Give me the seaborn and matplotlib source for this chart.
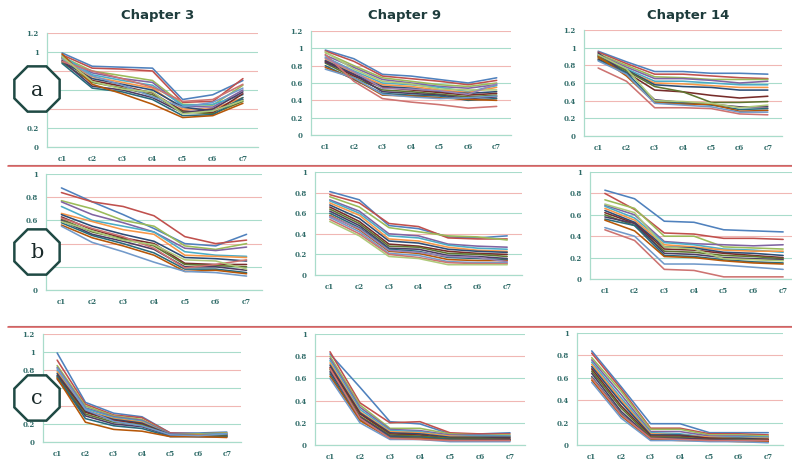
import pandas as pd
import numpy as np
from matplotlib import pyplot as plt
from matplotlib.patches import RegularPolygon
from matplotlib.ticker import FuncFormatter
import seaborn as sns

stages = ["c1", "c2", "c3", "c4", "c5", "c6", "c7"]
chapters = ["Chapter 3", "Chapter 9", "Chapter 14"]
row_labels = ["a", "b", "c"]

# row a
ch3_a = [
    [0.99, 0.85, 0.84, 0.83, 0.50, 0.55, 0.70],
    [0.97, 0.83, 0.82, 0.80, 0.47, 0.48, 0.72],
    [0.95, 0.80, 0.75, 0.70, 0.45, 0.44, 0.65],
    [0.93, 0.78, 0.72, 0.68, 0.43, 0.42, 0.60],
    [0.96, 0.76, 0.70, 0.65, 0.44, 0.45, 0.55],
    [0.92, 0.74, 0.68, 0.62, 0.40, 0.40, 0.52],
    [0.90, 0.72, 0.66, 0.60, 0.42, 0.38, 0.50],
    [0.94, 0.70, 0.64, 0.57, 0.38, 0.36, 0.56],
    [0.89, 0.68, 0.62, 0.55, 0.37, 0.35, 0.48],
    [0.91, 0.64, 0.60, 0.52, 0.36, 0.40, 0.58],
    [0.88, 0.62, 0.58, 0.50, 0.33, 0.34, 0.52],
    [0.98, 0.66, 0.56, 0.45, 0.31, 0.33, 0.46],
    [0.93, 0.75, 0.65, 0.53, 0.42, 0.47, 0.62],
    [0.90, 0.80, 0.72, 0.63, 0.48, 0.50, 0.66],
    [0.95, 0.69, 0.61, 0.58, 0.35, 0.38, 0.49],
]
ch9_a = [
    [0.98, 0.88, 0.70, 0.68, 0.64, 0.60, 0.66],
    [0.97, 0.85, 0.68, 0.65, 0.62, 0.58, 0.63],
    [0.95, 0.80, 0.66, 0.62, 0.58, 0.56, 0.60],
    [0.92, 0.78, 0.64, 0.60, 0.56, 0.54, 0.58],
    [0.90, 0.74, 0.60, 0.58, 0.55, 0.50, 0.57],
    [0.88, 0.72, 0.58, 0.56, 0.52, 0.49, 0.55],
    [0.86, 0.70, 0.56, 0.54, 0.50, 0.48, 0.50],
    [0.85, 0.68, 0.55, 0.52, 0.49, 0.46, 0.48],
    [0.83, 0.66, 0.52, 0.50, 0.47, 0.44, 0.46],
    [0.84, 0.70, 0.50, 0.48, 0.46, 0.42, 0.44],
    [0.80, 0.64, 0.48, 0.46, 0.45, 0.40, 0.42],
    [0.78, 0.65, 0.46, 0.45, 0.43, 0.41, 0.40],
    [0.76, 0.66, 0.47, 0.44, 0.42, 0.43, 0.45],
    [0.93, 0.62, 0.42, 0.38, 0.35, 0.31, 0.33],
    [0.96, 0.76, 0.62, 0.59, 0.53, 0.52, 0.52],
    [0.89, 0.73, 0.54, 0.53, 0.51, 0.47, 0.59],
]
ch14_a = [
    [0.96, 0.84, 0.73, 0.73, 0.71, 0.71, 0.70],
    [0.95, 0.82, 0.70, 0.70, 0.68, 0.66, 0.65],
    [0.93, 0.80, 0.67, 0.66, 0.64, 0.64, 0.64],
    [0.92, 0.78, 0.65, 0.65, 0.63, 0.60, 0.62],
    [0.90, 0.76, 0.62, 0.62, 0.60, 0.58, 0.58],
    [0.88, 0.74, 0.60, 0.59, 0.57, 0.55, 0.55],
    [0.91, 0.75, 0.58, 0.56, 0.55, 0.52, 0.52],
    [0.87, 0.72, 0.52, 0.50, 0.46, 0.43, 0.45],
    [0.89, 0.74, 0.56, 0.50, 0.38, 0.38, 0.39],
    [0.94, 0.70, 0.41, 0.38, 0.36, 0.33, 0.33],
    [0.86, 0.72, 0.39, 0.37, 0.35, 0.30, 0.31],
    [0.90, 0.68, 0.38, 0.36, 0.36, 0.28, 0.29],
    [0.85, 0.70, 0.37, 0.35, 0.33, 0.27, 0.27],
    [0.77, 0.62, 0.32, 0.32, 0.31, 0.25, 0.24],
    [0.92, 0.76, 0.40, 0.39, 0.37, 0.32, 0.35],
]

# row b
ch3_b = [
    [0.88, 0.76, 0.65, 0.53, 0.40, 0.38, 0.48],
    [0.84, 0.76, 0.72, 0.64, 0.46, 0.40, 0.43],
    [0.77, 0.70, 0.60, 0.55, 0.38, 0.35, 0.40],
    [0.76, 0.65, 0.58, 0.50, 0.36, 0.34, 0.37],
    [0.72, 0.60, 0.55, 0.50, 0.33, 0.30, 0.29],
    [0.66, 0.59, 0.52, 0.48, 0.30, 0.29, 0.28],
    [0.65, 0.55, 0.48, 0.42, 0.28, 0.27, 0.25],
    [0.63, 0.52, 0.45, 0.40, 0.23, 0.22, 0.22],
    [0.61, 0.50, 0.44, 0.38, 0.22, 0.21, 0.20],
    [0.60, 0.48, 0.42, 0.35, 0.20, 0.20, 0.17],
    [0.58, 0.47, 0.40, 0.32, 0.18, 0.18, 0.15],
    [0.56, 0.45, 0.38, 0.30, 0.16, 0.17, 0.14],
    [0.55, 0.41, 0.33, 0.24, 0.16, 0.15, 0.12],
    [0.62, 0.53, 0.46, 0.36, 0.19, 0.22, 0.26],
    [0.59, 0.51, 0.43, 0.39, 0.26, 0.25, 0.18],
]
ch9_b = [
    [0.81, 0.73, 0.48, 0.45, 0.37, 0.36, 0.38],
    [0.78, 0.70, 0.50, 0.47, 0.36, 0.35, 0.35],
    [0.76, 0.66, 0.46, 0.42, 0.38, 0.37, 0.34],
    [0.73, 0.62, 0.40, 0.38, 0.30, 0.28, 0.27],
    [0.72, 0.60, 0.38, 0.36, 0.29, 0.26, 0.25],
    [0.70, 0.58, 0.35, 0.33, 0.27, 0.24, 0.23],
    [0.68, 0.55, 0.33, 0.31, 0.25, 0.23, 0.22],
    [0.66, 0.52, 0.30, 0.28, 0.23, 0.21, 0.20],
    [0.64, 0.50, 0.28, 0.27, 0.21, 0.20, 0.18],
    [0.62, 0.48, 0.26, 0.25, 0.19, 0.18, 0.16],
    [0.60, 0.46, 0.25, 0.23, 0.17, 0.16, 0.15],
    [0.58, 0.44, 0.23, 0.21, 0.15, 0.14, 0.14],
    [0.56, 0.42, 0.21, 0.19, 0.13, 0.12, 0.12],
    [0.54, 0.40, 0.20, 0.17, 0.12, 0.11, 0.11],
    [0.52, 0.38, 0.18, 0.16, 0.10, 0.10, 0.10],
    [0.57, 0.45, 0.24, 0.22, 0.18, 0.17, 0.13],
]
ch14_b = [
    [0.83, 0.75, 0.54, 0.53, 0.46, 0.45, 0.44],
    [0.80, 0.65, 0.43, 0.42, 0.38, 0.38, 0.37],
    [0.74, 0.66, 0.40, 0.40, 0.30, 0.29, 0.28],
    [0.69, 0.60, 0.35, 0.33, 0.32, 0.31, 0.32],
    [0.68, 0.57, 0.34, 0.32, 0.28, 0.27, 0.25],
    [0.66, 0.55, 0.32, 0.30, 0.27, 0.26, 0.26],
    [0.64, 0.53, 0.30, 0.29, 0.25, 0.24, 0.22],
    [0.62, 0.52, 0.28, 0.27, 0.24, 0.22, 0.20],
    [0.60, 0.50, 0.26, 0.25, 0.22, 0.21, 0.19],
    [0.58, 0.52, 0.24, 0.23, 0.20, 0.19, 0.18],
    [0.56, 0.50, 0.22, 0.21, 0.18, 0.16, 0.15],
    [0.55, 0.45, 0.21, 0.20, 0.17, 0.15, 0.14],
    [0.48, 0.40, 0.14, 0.14, 0.13, 0.11, 0.09],
    [0.46, 0.36, 0.09, 0.08, 0.02, 0.02, 0.02],
    [0.70, 0.62, 0.30, 0.28, 0.19, 0.18, 0.17],
]

# row c
ch3_c = [
    [0.99, 0.44, 0.32, 0.28, 0.10, 0.10, 0.11],
    [0.91, 0.42, 0.30, 0.27, 0.10, 0.09, 0.10],
    [0.85, 0.40, 0.29, 0.25, 0.09, 0.09, 0.10],
    [0.83, 0.38, 0.28, 0.24, 0.09, 0.08, 0.09],
    [0.80, 0.37, 0.27, 0.23, 0.08, 0.08, 0.09],
    [0.78, 0.35, 0.26, 0.22, 0.08, 0.08, 0.08],
    [0.76, 0.34, 0.25, 0.21, 0.08, 0.07, 0.08],
    [0.74, 0.33, 0.24, 0.20, 0.07, 0.07, 0.07],
    [0.72, 0.31, 0.22, 0.19, 0.07, 0.07, 0.07],
    [0.70, 0.29, 0.20, 0.17, 0.07, 0.06, 0.06],
    [0.73, 0.26, 0.18, 0.15, 0.06, 0.06, 0.06],
    [0.71, 0.22, 0.14, 0.12, 0.06, 0.06, 0.05],
    [0.82, 0.36, 0.23, 0.18, 0.08, 0.07, 0.09],
]
ch9_c = [
    [0.82, 0.52, 0.21, 0.19, 0.10, 0.10, 0.11],
    [0.84, 0.38, 0.20, 0.21, 0.11, 0.10, 0.10],
    [0.80, 0.36, 0.15, 0.15, 0.10, 0.09, 0.09],
    [0.78, 0.34, 0.14, 0.13, 0.09, 0.09, 0.08],
    [0.76, 0.32, 0.13, 0.12, 0.08, 0.08, 0.08],
    [0.74, 0.30, 0.12, 0.11, 0.08, 0.07, 0.07],
    [0.72, 0.29, 0.11, 0.10, 0.07, 0.07, 0.07],
    [0.70, 0.28, 0.10, 0.09, 0.06, 0.06, 0.06],
    [0.68, 0.26, 0.09, 0.08, 0.06, 0.06, 0.05],
    [0.66, 0.25, 0.08, 0.07, 0.05, 0.05, 0.05],
    [0.64, 0.23, 0.07, 0.07, 0.05, 0.04, 0.04],
    [0.62, 0.22, 0.06, 0.06, 0.04, 0.04, 0.04],
    [0.60, 0.20, 0.05, 0.05, 0.03, 0.03, 0.03],
    [0.69, 0.24, 0.06, 0.05, 0.04, 0.04, 0.04],
]
ch14_c = [
    [0.84, 0.52, 0.19, 0.19, 0.11, 0.11, 0.11],
    [0.82, 0.50, 0.15, 0.15, 0.10, 0.10, 0.09],
    [0.78, 0.48, 0.14, 0.14, 0.09, 0.09, 0.08],
    [0.76, 0.45, 0.12, 0.12, 0.08, 0.08, 0.07],
    [0.74, 0.42, 0.11, 0.10, 0.07, 0.07, 0.07],
    [0.72, 0.40, 0.10, 0.09, 0.07, 0.06, 0.06],
    [0.70, 0.38, 0.09, 0.09, 0.06, 0.06, 0.05],
    [0.68, 0.35, 0.08, 0.08, 0.06, 0.05, 0.05],
    [0.66, 0.33, 0.07, 0.07, 0.05, 0.05, 0.04],
    [0.64, 0.30, 0.06, 0.06, 0.05, 0.04, 0.04],
    [0.61, 0.28, 0.05, 0.05, 0.04, 0.04, 0.03],
    [0.58, 0.26, 0.05, 0.04, 0.04, 0.03, 0.03],
    [0.56, 0.24, 0.04, 0.04, 0.03, 0.03, 0.02],
    [0.60, 0.27, 0.06, 0.05, 0.04, 0.04, 0.04],
]

panels = [
    [ch3_a, ch9_a, ch14_a],
    [ch3_b, ch9_b, ch14_b],
    [ch3_c, ch9_c, ch14_c],
]
y_tops = [[1.2, 1.2, 1.2], [1.0, 1.0, 1.0], [1.2, 1.0, 1.0]]

# plot areas in pixels: left, right, top, bottom
boxes = [
    [(47, 258, 33, 147), (311, 511, 31, 135), (584, 782, 30, 136)],
    [(46, 262, 174, 290), (315, 522, 172, 275), (590, 798, 172, 279)],
    [(43, 241, 334, 442), (315, 525, 334, 445), (577, 783, 333, 445)],
]
# octagon centres (pixels) for the row markers
octagon_y = [89, 252, 398]
octagon_x = 37
octagon_half = 22

excel_colors = ["#4F81BD", "#C0504D", "#9BBB59", "#8064A2", "#4BACC6", "#F79646",
                "#2C4D75", "#772C2A", "#5F7530", "#4D3B62", "#276A7C", "#B65708",
                "#729ACA", "#CD7371", "#AFC97A", "#9983B5", "#6FBDD3", "#F9AB6B"]

sns.set_theme(style="white")
W, H = 792, 462
fig = plt.figure(figsize=(W / 100, H / 100), dpi=100)
fig.patch.set_facecolor("white")

tick_color = "#2f6b68"
grid_green = "#a9dccb"
grid_pink = "#f0b7b4"

for r in range(3):
    for c in range(3):
        left, right, top, bottom = boxes[r][c]
        ax = fig.add_axes([left / W, 1 - bottom / H, (right - left) / W, (bottom - top) / H])
        lines = panels[r][c]
        df = pd.DataFrame(lines, columns=stages)
        df["line"] = [f"s{i}" for i in range(len(lines))]
        long_df = df.melt(id_vars="line", var_name="stage", value_name="value")
        sns.lineplot(data=long_df, x="stage", y="value", hue="line",
                     palette=excel_colors[:len(lines)], legend=False,
                     linewidth=1.15, ax=ax)
        ymax = y_tops[r][c]
        ax.set_xlim(-0.5, 6.5)
        ax.set_ylim(0, ymax)
        ticks = np.arange(0, ymax + 0.01, 0.2)
        ax.set_yticks(ticks)
        ax.yaxis.set_major_formatter(FuncFormatter(lambda v, p: f"{v:g}"))
        ax.set_xlabel("")
        ax.set_ylabel("")
        ax.grid(axis="y", linewidth=0.8)
        for i, gl in enumerate(ax.yaxis.get_gridlines()):
            gl.set_color(grid_pink if i % 2 == 0 else grid_green)
        ax.set_axisbelow(True)
        for side in ["top", "right"]:
            ax.spines[side].set_visible(False)
        for side in ["left", "bottom"]:
            ax.spines[side].set_color(grid_green)
            ax.spines[side].set_linewidth(0.9)
        ax.tick_params(length=0, pad=6, labelsize=5, labelcolor=tick_color)
        for lab in ax.get_xticklabels() + ax.get_yticklabels():
            lab.set_fontfamily("DejaVu Serif")
            lab.set_fontweight("bold")
        # labels hidden behind the octagon marker in the first column
        if c == 0:
            for t, lab in zip(ticks, ax.get_yticklabels()):
                py = bottom - (bottom - top) * t / ymax
                if abs(py - octagon_y[r]) < octagon_half:
                    lab.set_visible(False)
        ax.patch.set_alpha(0)

# chapter titles
for title, x in zip(chapters, [158, 405, 688]):
    fig.text(x / W, 1 - 15 / H, title, ha="center", va="center",
             fontsize=9.5, fontweight="bold", color="#1e3c3c")

# separators between rows
for y in [166, 327]:
    fig.add_artist(plt.Line2D([8 / W, 1], [1 - (y - 1.5) / H] * 2, color="#5a6a6a",
                              linewidth=0.8, transform=fig.transFigure))
    fig.add_artist(plt.Line2D([8 / W, 1], [1 - y / H] * 2, color="#e06666",
                              linewidth=1.2, transform=fig.transFigure))

# octagon row markers
for lab, cy in zip(row_labels, octagon_y):
    oct_patch = RegularPolygon((octagon_x / 100, (H - cy) / 100), numVertices=8, radius=0.245,
                               orientation=np.pi / 8, facecolor="white",
                               edgecolor="#1f4a44", linewidth=1.8,
                               transform=fig.dpi_scale_trans, zorder=5)
    fig.add_artist(oct_patch)
    fig.text(octagon_x / W, 1 - (cy + 1) / H, lab, ha="center", va="center", fontsize=15,
             family="DejaVu Serif", color="#1a2a2a", zorder=6)

fig.savefig("out.png", dpi=100)
